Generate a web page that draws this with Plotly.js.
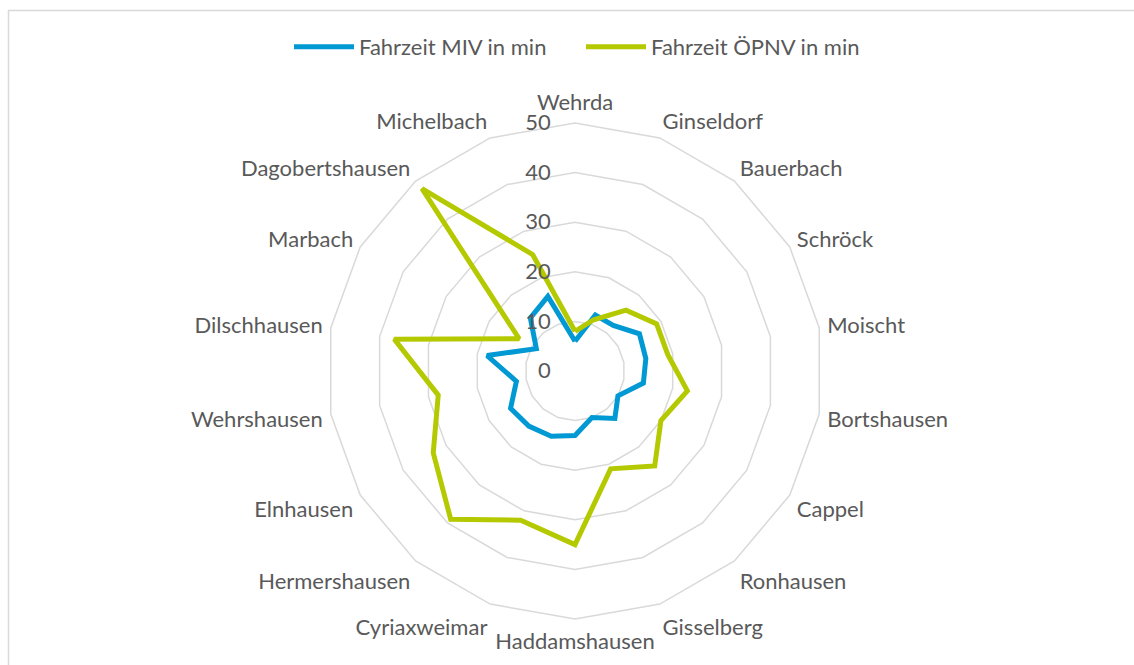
<!DOCTYPE html>
<html>
<head>
<meta charset="utf-8">
<script src="https://cdn.plot.ly/plotly-3.0.1.min.js"></script>
<style>
  html, body { margin: 0; padding: 0; background: #ffffff; }
  #chart { width: 1134px; height: 665px; }
</style>
</head>
<body>
<div id="chart"></div>
<script>
const categories = ["Wehrda","Ginseldorf","Bauerbach","Schröck","Moischt","Bortshausen","Cappel","Ronhausen","Gisselberg","Haddamshausen","Cyriaxweimar","Hermershausen","Elnhausen","Wehrshausen","Dilschhausen","Marbach","Dagobertshausen","Michelbach"];
const fahrzeitMIV = [6, 12, 12, 15, 14.5, 14, 10, 12.5, 10, 13, 14, 14.5, 15, 12, 18, 9, 14, 16];
const fahrzeitOEPNV = [8, 11, 16, 19, 19, 23, 20, 25, 21, 35, 32, 39, 33, 28, 37, 13, 48, 25];
const seriesNames = ["Fahrzeit MIV in min", "Fahrzeit ÖPNV in min"];
const radialTicks = [0, 10, 20, 30, 40, 50];

const close = a => a.concat([a[0]]);
const FONT = "Lato, 'Open Sans', sans-serif";
const TXT = "#595959";
const GRID = "#d9d9d9";

const W = 1134, H = 665;
const cx = 575, cy = 371, R = 248;

const traces = [
  { type: "scatterpolar", mode: "lines", name: seriesNames[0],
    r: close(fahrzeitMIV), theta: close(categories),
    line: { color: "#0099D3", width: 5 } },
  { type: "scatterpolar", mode: "lines", name: seriesNames[1],
    r: close(fahrzeitOEPNV), theta: close(categories),
    line: { color: "#B5C900", width: 5 } }
];

const layout = {
  width: W, height: H,
  margin: { l: 0, r: 0, t: 0, b: 0 },
  paper_bgcolor: "#ffffff",
  font: { family: FONT, size: 22, color: TXT },
  showlegend: true,
  legend: {
    orientation: "h", x: 581 / W, xanchor: "center",
    y: 1 - 47 / H, yanchor: "middle",
    font: { family: FONT, size: 22, color: TXT },
    bgcolor: "rgba(0,0,0,0)", itemwidth: 60, traceorder: "normal",
    entrywidth: 217, entrywidthmode: "pixels"
  },
  polar: {
    domain: { x: [(cx - R) / W, (cx + R) / W], y: [(H - cy - R) / H, (H - cy + R) / H] },
    gridshape: "linear",
    bgcolor: "rgba(0,0,0,0)",
    angularaxis: {
      rotation: 90, direction: "clockwise",
      showgrid: false, showline: true, linecolor: GRID, linewidth: 1.5,
      ticks: "outside", ticklen: 3, tickcolor: "rgba(0,0,0,0)",
      tickfont: { family: FONT, size: 22, color: TXT }
    },
    radialaxis: {
      range: [0, 50], tickvals: radialTicks, angle: 90,
      side: "counterclockwise", tickangle: 90,
      showline: false, gridcolor: GRID, gridwidth: 1.5,
      ticks: "outside", ticklen: 16, tickcolor: "rgba(0,0,0,0)",
      tickfont: { family: FONT, size: 22, color: TXT }
    }
  },
  shapes: [
    { type: "rect", xref: "paper", yref: "paper",
      x0: 8.5 / W, x1: 1.02, y0: -0.02, y1: (H - 10.5) / H,
      line: { color: GRID, width: 1.5 }, fillcolor: "rgba(0,0,0,0)", layer: "below" }
  ]
};

Plotly.newPlot("chart", traces, layout, { displayModeBar: false, staticPlot: true });
</script>
</body>
</html>
